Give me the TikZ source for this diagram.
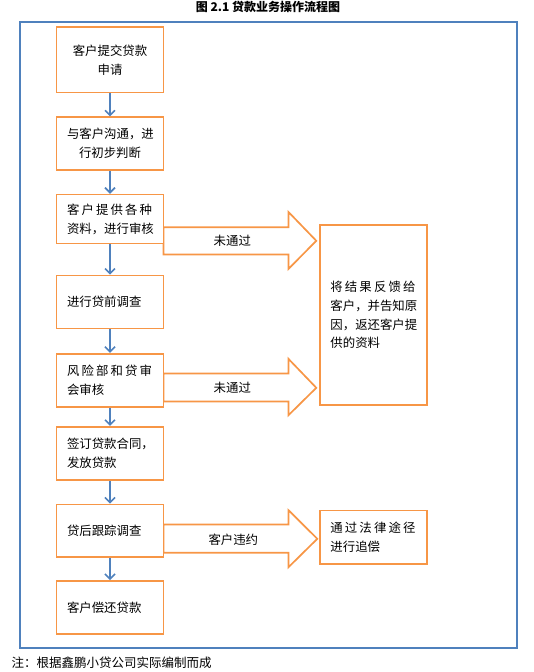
\documentclass[tikz,border=0pt]{standalone}
\usepackage{fontspec}
\setmainfont{Noto Sans CJK SC}
\usetikzlibrary{arrows.meta}
\definecolor{boxorange}{HTML}{F79646}
\definecolor{frameblue}{HTML}{4F81BD}
\newcommand\spreadline[1]{\makebox[85pt][s]{#1}}
\begin{document}
\begin{tikzpicture}[x=1pt,y=-1pt,
  stepbox/.style={draw=boxorange,line width=1.7pt,fill=white,minimum width=107pt,
    text width=86pt,inner xsep=10.5pt,inner ysep=0pt,align=left,
    font=\fontsize{12.4}{18.8}\selectfont},
  flow/.style={draw=frameblue,line width=1.6pt,
    -{Straight Barb[length=5pt,width=10pt,line width=1.6pt]}},
  blockarrow/.style={draw=boxorange,line width=1.7pt,fill=white,line join=miter},
  lbl/.style={font=\fontsize{12.4}{14}\selectfont,inner sep=0pt}]
\useasboundingbox (0,0) rectangle (533,672);
\node[font=\bfseries\fontsize{12}{14}\selectfont,inner sep=0pt] (title) at (268,7) {图 2.1 贷款业务操作流程图};
\draw[frameblue,line width=2pt] (19.5,21.5) rectangle (516.5,648);
% block arrows (drawn first so boxes sit on top)
\coordinate (a1s) at (163.5,240.8);
\coordinate (a2s) at (163.5,387.8);
\coordinate (a3s) at (163.5,538.5);
\draw[blockarrow] (a1s |- 0,227.2) -- (288.4,227.2) -- (288.4,211.9) -- (316.3,240.8)
  -- (288.4,269) -- (288.4,254.4) -- (a1s |- 0,254.4) -- cycle;
\draw[blockarrow] (a2s |- 0,373.5) -- (288.4,373.5) -- (288.4,358.8) -- (316.3,387.8)
  -- (288.4,415.3) -- (288.4,401.4) -- (a2s |- 0,401.4) -- cycle;
\draw[blockarrow] (a3s |- 0,524.4) -- (288.4,524.4) -- (288.4,510.1) -- (317.3,538.8)
  -- (288.4,567.3) -- (288.4,552.7) -- (a3s |- 0,552.7) -- cycle;
\node[lbl] (l1) at (232.3,240.8) {未通过};
\node[lbl] (l2) at (232.3,387.8) {未通过};
\node[lbl] (l3) at (233.3,539.3) {客户违约};
% left column
\node[stepbox,align=center,minimum height=65.3pt] (b1) at (110,59.85) {客户提交贷款\\申请};
\node[stepbox,align=center,minimum height=52.7pt] (b2) at (110,143.65) {与客户沟通，进\\行初步判断};
\node[stepbox,minimum height=48.9pt] (b3) at (110,219.05) {\spreadline{客\hfill 户\hfill 提\hfill 供\hfill 各\hfill 种}\\资料，进行审核};
\node[stepbox,minimum height=53.1pt] (b4) at (110,302.05) {进行贷前调查};
\node[stepbox,minimum height=53.1pt] (b5) at (110,380.25) {\spreadline{风\hfill 险\hfill 部\hfill 和\hfill 贷\hfill 审}\\会审核};
\node[stepbox,minimum height=53.4pt] (b6) at (110,453.5) {签订贷款合同，\\发放贷款};
\node[stepbox,minimum height=52.3pt] (b7) at (110,530.55) {贷后跟踪调查};
\node[stepbox,minimum height=53.4pt] (b8) at (110,607.6) {客户偿还贷款};
% right column
\node[stepbox,minimum height=180.3pt,minimum width=107.5pt,inner xsep=10.75pt] (r1) at (373.45,314.95)
  {\spreadline{将\hfill 结\hfill 果\hfill 反\hfill 馈\hfill 给}\\客户，并告知原\\因，返还客户提\\供的资料};
\node[stepbox,minimum height=53.4pt,minimum width=107.5pt,inner xsep=10.75pt] (r2) at (373.45,537.2)
  {\spreadline{通\hfill 过\hfill 法\hfill 律\hfill 途\hfill 径}\\进行追偿};
% vertical flow arrows
\draw[flow] (b1) -- (b2);
\draw[flow] (b2) -- (b3);
\draw[flow] (b3) -- (b4);
\draw[flow] (b4) -- (b5);
\draw[flow] (b5) -- (b6);
\draw[flow] (b6) -- (b7);
\draw[flow] (b7) -- (b8);
% footnote
\node[anchor=west,inner sep=0pt,font=\fontsize{12.5}{14}\selectfont] (note) at (11.5,663) {注：根据鑫鹏小贷公司实际编制而成};
\end{tikzpicture}
\end{document}
